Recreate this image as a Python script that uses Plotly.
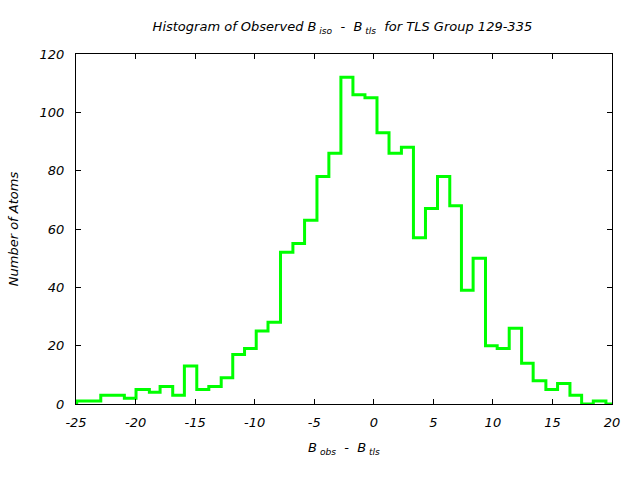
import plotly.graph_objects as go

# step start positions (gnuplot "steps" style) and counts
step_x = [-25.96, -24.94, -22.92, -20.94, -19.96, -18.84, -17.94, -16.88, -15.90,
          -14.86, -13.85, -12.81, -11.84, -10.85, -9.87, -8.88, -7.83, -6.79,
          -5.81, -4.77, -3.77, -2.76, -1.75, -0.74, 0.27, 1.28, 2.32, 3.33,
          4.34, 5.35, 6.38, 7.36, 8.34, 9.38, 10.36, 11.37, 12.41, 13.38,
          14.45, 15.43, 16.47, 17.45, 18.43, 19.49, 20.5]
counts = [0, 1, 3, 2, 5, 4, 6, 3, 13,
          5, 6, 9, 17, 19, 25, 28, 52, 55,
          63, 78, 86, 112, 106, 105, 93, 86, 88, 57,
          67, 78, 68, 39, 50, 20, 19, 26, 14, 8,
          5, 7, 3, 0, 1, 0, 0]

x_ticks = [-25, -20, -15, -10, -5, 0, 5, 10, 15, 20]
x_tick_labels = ["-25", "-20", "-15", "-10", "-5", "0", "5", "10", "15", "20"]
y_ticks = [0, 20, 40, 60, 80, 100, 120]

FONT = "DejaVu Sans"

fig = go.Figure()
fig.add_trace(go.Scatter(
    x=step_x, y=counts, mode="lines",
    line=dict(color="#00ff00", width=3, shape="hv"),
    showlegend=False,
))

fig.update_layout(
    width=640, height=480,
    margin=dict(l=76, r=28, t=54, b=76),
    paper_bgcolor="white", plot_bgcolor="white",
    font=dict(family=FONT, size=12, color="black"),
    title=dict(
        text="<i>Histogram of Observed B<sub> iso</sub>  -  B<sub> tls</sub>  for TLS Group 129-335</i>",
        x=0.535, xanchor="center", y=0.945, yanchor="middle",
        font=dict(family=FONT, size=13),
    ),
)
fig.update_xaxes(
    range=[-25, 20], tickmode="array", tickvals=x_ticks, ticktext=[f"<i>{t}</i>" for t in x_tick_labels],
    ticks="inside", ticklen=5, tickcolor="black", tickwidth=1,
    showline=True, linecolor="black", linewidth=1, mirror="allticks",
    showgrid=False, zeroline=False, ticklabelstandoff=6,
    tickfont=dict(family=FONT, size=13),
    title=dict(text="<i>B<sub> obs</sub>  -  B<sub> tls</sub></i>", font=dict(family=FONT, size=13), standoff=14),
)
fig.update_yaxes(
    range=[0, 120], tickmode="array", tickvals=y_ticks, ticktext=[f"<i>{t}</i>" for t in y_ticks],
    ticks="inside", ticklen=5, tickcolor="black", tickwidth=1,
    showline=True, linecolor="black", linewidth=1, mirror="allticks",
    showgrid=False, zeroline=False, ticklabelstandoff=8,
    tickfont=dict(family=FONT, size=13),
    title=dict(text="<i>Number of Atoms</i>", font=dict(family=FONT, size=13), standoff=18),
)

fig.write_html("out.html")
